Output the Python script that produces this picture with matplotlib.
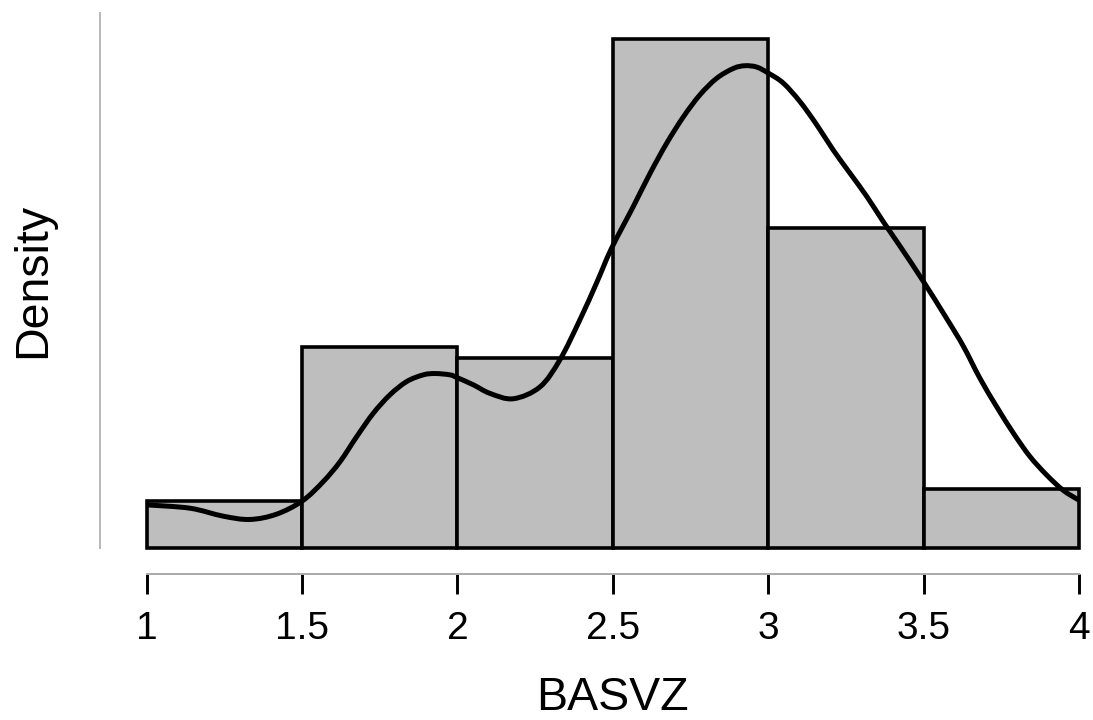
import matplotlib
matplotlib.use("Agg")
import matplotlib.pyplot as plt
from matplotlib.path import Path
from matplotlib.patches import PathPatch

plt.rcParams['font.family'] = ['Liberation Sans', 'DejaVu Sans']

# histogram bins (BASVZ) and densities
bin_edges = [1.0, 1.5, 2.0, 2.5, 3.0, 3.5]
bin_width = 0.5
counts = [4, 17, 16, 43, 27, 5]
n_total = sum(counts)
densities = [c / (n_total * bin_width) for c in counts]

# kernel density curve
kde_x = [1.000, 1.139, 1.246, 1.332, 1.418, 1.501, 1.568, 1.622, 1.676, 1.729,
         1.783, 1.837, 1.890, 1.928, 1.976, 1.998, 2.051, 2.105, 2.180, 2.266,
         2.330, 2.394, 2.448, 2.496, 2.566, 2.620, 2.673, 2.727, 2.780, 2.834,
         2.888, 2.925, 2.963, 3.000, 3.048, 3.102, 3.156, 3.209, 3.263, 3.317,
         3.370, 3.424, 3.499, 3.574, 3.628, 3.681, 3.735, 3.789, 3.842, 3.896,
         3.949, 4.000]
kde_y = [0.065, 0.060, 0.048, 0.043, 0.051, 0.071, 0.100, 0.130, 0.168, 0.203,
         0.231, 0.251, 0.261, 0.263, 0.261, 0.257, 0.246, 0.233, 0.225, 0.243,
         0.284, 0.344, 0.400, 0.452, 0.515, 0.565, 0.610, 0.650, 0.683, 0.708,
         0.723, 0.727, 0.725, 0.716, 0.701, 0.673, 0.638, 0.600, 0.565, 0.530,
         0.492, 0.455, 0.402, 0.346, 0.304, 0.256, 0.213, 0.173, 0.138, 0.110,
         0.087, 0.072]

tick_vals = [1, 1.5, 2, 2.5, 3, 3.5, 4]
tick_labels = ['1', '1.5', '2', '2.5', '3', '3.5', '4']


def smooth_path(xs, ys):
    # draw a smooth line through the read points (Catmull-Rom as cubic beziers)
    verts = [(xs[0], ys[0])]
    codes = [Path.MOVETO]
    n = len(xs)
    for i in range(n - 1):
        x0, y0 = (xs[i - 1], ys[i - 1]) if i > 0 else (xs[i], ys[i])
        x1, y1 = xs[i], ys[i]
        x2, y2 = xs[i + 1], ys[i + 1]
        x3, y3 = (xs[i + 2], ys[i + 2]) if i + 2 < n else (x2, y2)
        c1 = (x1 + (x2 - x0) / 6, y1 + (y2 - y0) / 6)
        c2 = (x2 - (x3 - x1) / 6, y2 - (y3 - y1) / 6)
        verts += [c1, c2, (x2, y2)]
        codes += [Path.CURVE4] * 3
    return Path(verts, codes)


fig = plt.figure(figsize=(10.93, 7.2), dpi=100)
ax = fig.add_axes([0.1342, 0.2389, 0.8530, 0.7435])

ax.bar(bin_edges, densities, width=bin_width, align='edge', color='#bebebe',
       edgecolor='black', linewidth=2.6, clip_on=False)
ax.add_patch(PathPatch(smooth_path(kde_x, kde_y), facecolor='none',
                       edgecolor='black', linewidth=3.6, clip_on=False))

ax.set_xlim(1, 4)
ax.set_ylim(0, 0.807)

ax.spines['top'].set_visible(False)
ax.spines['right'].set_visible(False)
ax.spines['left'].set_position(('outward', 33.6))
ax.spines['left'].set_color('#b8b8b8')
ax.spines['left'].set_linewidth(1.4)
ax.spines['bottom'].set_position(('outward', 18.7))
ax.spines['bottom'].set_bounds(1, 4)
ax.spines['bottom'].set_color('#aaaaaa')
ax.spines['bottom'].set_linewidth(1.4)

ax.set_xticks(tick_vals)
ax.set_xticklabels(tick_labels)
ax.set_yticks([])
ax.tick_params(axis='x', length=14.4, width=2.1, color='black',
               labelsize=28, pad=12)

ax.set_xlabel('BASVZ', fontsize=33.5, va='baseline')
ax.xaxis.set_label_coords(0.5, -0.302)
ax.set_ylabel('Density', fontsize=33.5, va='baseline', ha='center',
              rotation_mode='anchor')
ax.yaxis.set_label_coords(-0.1091, 0.5)

fig.savefig('out.png', dpi=100)
